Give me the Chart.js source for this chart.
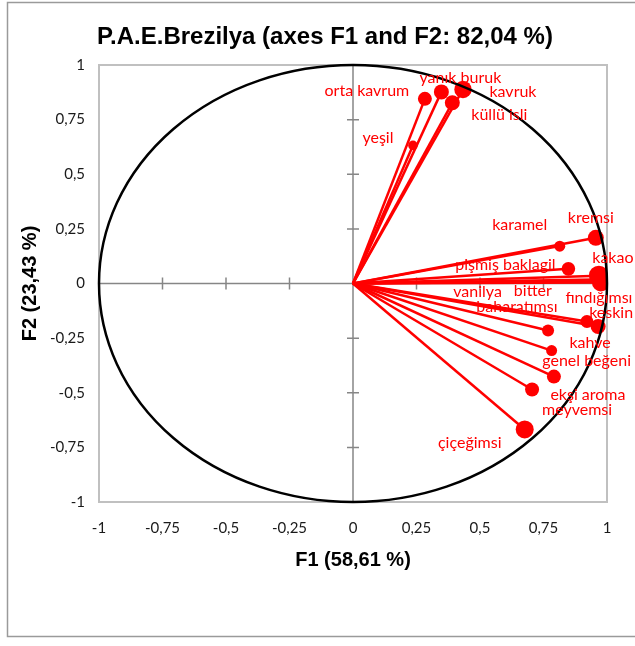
<!DOCTYPE html>
<html>
<head>
<meta charset="utf-8">
<script src="https://cdn.jsdelivr.net/npm/chart.js@4.4.0/dist/chart.umd.min.js"></script>
<style>
html, body { margin: 0; padding: 0; background: #fff; }
canvas { display: block; }
</style>
</head>
<body>
<canvas id="pca" width="635" height="646"></canvas>
<script>
// variables (correlations with F1 / F2)
const variables = ['orta kavrum', 'yanık buruk', 'kavruk', 'küllü isli', 'yeşil',
    'kremsi', 'karamel', 'pişmiş baklagil', 'kakao', 'fındığımsı', 'vanilya', 'bitter',
    'baharatımsı', 'keskin', 'kahve', 'genel beğeni', 'ekşi aroma', 'meyvemsi', 'çiçeğimsi'];
const f1 = [0.283, 0.348, 0.433, 0.391, 0.236,
    0.956, 0.814, 0.848, 0.968, 0.976, 0.955, 0.960,
    0.921, 0.965, 0.768, 0.782, 0.791, 0.705, 0.676];
const f2 = [0.845, 0.877, 0.888, 0.827, 0.632,
    0.209, 0.171, 0.067, 0.036, 0.005, 0.018, 0.010,
    -0.174, -0.197, -0.215, -0.307, -0.426, -0.485, -0.668];
const tickValues = [-1, -0.75, -0.5, -0.25, 0, 0.25, 0.5, 0.75, 1];

// marker radius for each variable
const pointSizes = [7, 7.5, 8.7, 7.5, 4.8, 8, 5.5, 6.8, 10, 9, 4, 4,
    6.5, 7.5, 6, 5.5, 7, 7, 9];
// where each label sits, in px from its marker
const labelOffsets = [[-58, -8], [19, -14], [50, 2], [47, 12], [-35, -8],
    [-5, -20], [-40, -21], [-63, -4], [14, -18], [-2, 15], [-118, 12], [-64, 10],
    [-70, -15], [13, -14], [42, 12], [35, 10], [34, 18], [45, 20], [-55, 13]];

const RED = '#ff0000';
const fmt = v => String(v).replace('.', ',');

const datasets = variables.map((name, i) => ({
    label: name,
    data: [{ x: 0, y: 0 }, { x: f1[i], y: f2[i] }],
    showLine: true,
    borderColor: RED,
    borderWidth: 2.5,
    pointRadius: [0, pointSizes[i]],
    pointBackgroundColor: RED,
    pointBorderWidth: 0
}));

// white page, outer frame, plot border, axes through 0
const backPlugin = {
    id: 'back',
    beforeDraw(chart) {
        const { ctx, chartArea: a, scales } = chart;
        ctx.save();
        ctx.fillStyle = '#fff';
        ctx.fillRect(0, 0, chart.width, chart.height);
        ctx.strokeStyle = '#9a9a9a';
        ctx.lineWidth = 1.5;
        ctx.strokeRect(7.5, 2.5, 700, 634);
        ctx.strokeStyle = '#c0c0c0';
        ctx.lineWidth = 2;
        ctx.strokeRect(a.left, a.top, a.right - a.left, a.bottom - a.top);

        const x0 = scales.x.getPixelForValue(0);
        const y0 = scales.y.getPixelForValue(0);
        ctx.strokeStyle = '#868686';
        ctx.lineWidth = 1.5;
        ctx.beginPath();
        ctx.moveTo(x0, a.top); ctx.lineTo(x0, a.bottom);
        ctx.moveTo(a.left, y0); ctx.lineTo(a.right, y0);
        tickValues.forEach(v => {
            const py = scales.y.getPixelForValue(v);
            ctx.moveTo(x0 - 6, py); ctx.lineTo(x0 + 6, py);
            const px = scales.x.getPixelForValue(v);
            ctx.moveTo(px, y0 - 6); ctx.lineTo(px, y0 + 6);
        });
        ctx.stroke();
        ctx.restore();
    }
};

// unit circle, title and red labels
const frontPlugin = {
    id: 'front',
    afterDatasetsDraw(chart) {
        const { ctx, scales } = chart;
        const cx = scales.x.getPixelForValue(0);
        const cy = scales.y.getPixelForValue(0);
        const rx = scales.x.getPixelForValue(1) - cx;
        const ry = cy - scales.y.getPixelForValue(1);
        ctx.save();
        ctx.strokeStyle = '#000';
        ctx.lineWidth = 2.5;
        ctx.beginPath();
        ctx.ellipse(cx, cy, rx, ry, 0, 0, Math.PI * 2);
        ctx.stroke();

        ctx.fillStyle = RED;
        ctx.font = '16px Lato';
        ctx.textAlign = 'center';
        ctx.textBaseline = 'middle';
        variables.forEach((name, i) => {
            const px = scales.x.getPixelForValue(f1[i]);
            const py = scales.y.getPixelForValue(f2[i]);
            ctx.fillText(name, px + labelOffsets[i][0], py + labelOffsets[i][1]);
        });

        ctx.fillStyle = '#000';
        ctx.font = 'bold 24px "Liberation Sans"';
        ctx.fillText('P.A.E.Brezilya (axes F1 and F2: 82,04 %)', 325, 37);
        ctx.restore();
    }
};

new Chart(document.getElementById('pca'), {
    type: 'scatter',
    data: { datasets },
    options: {
        responsive: false,
        animation: false,
        events: [],
        layout: { padding: { top: 65, left: 0, right: 28, bottom: 64 } },
        plugins: {
            legend: { display: false },
            tooltip: { enabled: false }
        },
        scales: {
            x: {
                type: 'linear',
                min: -1,
                max: 1,
                afterBuildTicks: s => { s.ticks = tickValues.map(v => ({ value: v })); },
                afterFit: s => { s.height = 80; },
                grid: { display: false, drawTicks: false },
                border: { display: false },
                ticks: {
                    padding: 17,
                    color: '#1a1a1a',
                    font: { family: 'Lato', size: 15 },
                    maxRotation: 0,
                    callback: fmt
                },
                title: {
                    display: true,
                    text: 'F1 (58,61 %)',
                    color: '#000',
                    font: { family: 'Liberation Sans', size: 20, weight: 'bold' },
                    padding: { top: 0, bottom: 10 }
                }
            },
            y: {
                type: 'linear',
                min: -1,
                max: 1,
                afterBuildTicks: s => { s.ticks = tickValues.map(v => ({ value: v })); },
                afterFit: s => { s.width = 99; },
                grid: { display: false, drawTicks: false },
                border: { display: false },
                ticks: {
                    padding: 14,
                    color: '#1a1a1a',
                    font: { family: 'Lato', size: 15 },
                    callback: fmt
                },
                title: {
                    display: true,
                    text: 'F2 (23,43 %)',
                    color: '#000',
                    font: { family: 'Liberation Sans', size: 20, weight: 'bold' },
                    padding: { top: 18, bottom: 0 }
                }
            }
        }
    },
    plugins: [backPlugin, frontPlugin]
});
</script>
</body>
</html>
